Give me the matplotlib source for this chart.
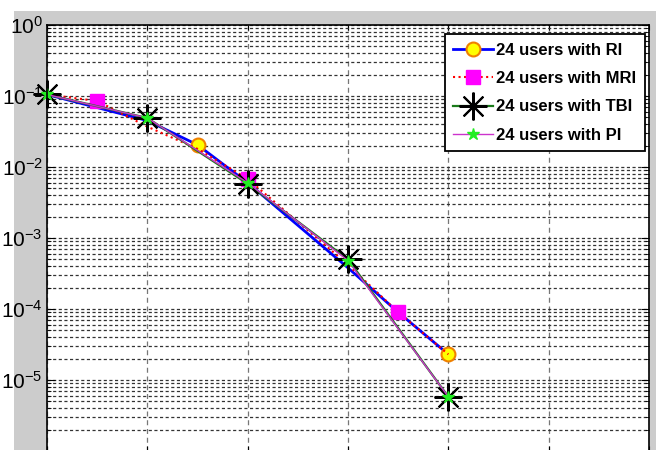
import numpy as np
import matplotlib.pyplot as plt
from matplotlib.patches import Rectangle
from matplotlib.ticker import LogLocator, NullFormatter, FixedLocator

plt.rcParams['font.family'] = ['Liberation Sans', 'DejaVu Sans']

# BER curves, 24 users, for the four interleavers
x_ri = [0, 1, 1.5, 2, 3, 3.5, 4]
ber_ri = [0.105, 0.045, 0.0205, 0.0060, 3.8e-4, 9.0e-5, 2.3e-5]

x_mri = [0, 0.5, 1, 1.5, 2, 3, 3.5, 4]
ber_mri = [0.105, 0.085, 0.037, 0.018, 0.0068, 4.2e-4, 9.0e-5, 2.3e-5]

x_tbi = [0, 1, 2, 3, 4]
ber_tbi = [0.105, 0.049, 0.0058, 5.0e-4, 5.8e-6]

x_pi = [0, 1, 2, 3, 4]
ber_pi = [0.105, 0.049, 0.0060, 4.8e-4, 5.8e-6]

labels = ['24 users with RI', '24 users with MRI', '24 users with TBI', '24 users with PI']
decades = [1e-5, 1e-4, 1e-3, 1e-2, 1e-1, 1e0]

W, H = 661, 450
fig = plt.figure(figsize=(W / 100, H / 100), dpi=100, facecolor='white')
fig.patches.append(Rectangle((14 / W, 0), (656 - 14) / W, 1 - 11 / H,
                             transform=fig.transFigure, facecolor='#cccccc',
                             edgecolor='none', zorder=-10))

ax = fig.add_axes([47 / W, -1 / H, (649 - 47) / W, (451 - 25) / H])
ax.set_facecolor('white')

ax.semilogy(x_ri, ber_ri, '-', color='blue', lw=2, marker='o', markevery=[2, 6],
            ms=10, mfc='yellow', mec='#f08000', mew=1.5, label=labels[0], clip_on=False)
ax.semilogy(x_mri, ber_mri, ':', color='red', lw=1.5, marker='s', markevery=[1, 4, 6],
            ms=10, mfc='magenta', mec='magenta', label=labels[1], clip_on=False)
ax.semilogy(x_tbi, ber_tbi, '-', color='#1a7a1a', lw=1.6, marker=(8, 2, 0),
            ms=20, mec='black', mew=1.5, label=labels[2], clip_on=False)
ax.semilogy(x_pi, ber_pi, '-', color='#cc33cc', lw=1, marker='*',
            ms=9, mfc='#22ee22', mec='#22ee22', label=labels[3], clip_on=False)

ax.set_xlim(0, 6)
ax.set_ylim(1e-6, 1)
ax.set_xticks(range(7))
ax.set_xticklabels([])
ax.yaxis.set_major_locator(FixedLocator(decades))
ax.yaxis.set_minor_locator(LogLocator(base=10, subs=np.arange(2, 10), numticks=20))
ax.yaxis.set_minor_formatter(NullFormatter())

ax.grid(True, which='major', axis='x', color='#777777', ls=(0, (4, 3)), lw=0.9)
ax.grid(True, which='both', axis='y', color='#333333', ls=(0, (2.5, 2)), lw=0.9)
ax.set_axisbelow(True)

ax.tick_params(axis='both', which='both', direction='in', top=True, right=True)
ax.tick_params(axis='y', which='major', labelsize=15, length=6, pad=3)
ax.tick_params(axis='y', which='minor', length=3)
for s in ax.spines.values():
    s.set_linewidth(1.2)

leg = ax.legend(loc='upper right', bbox_to_anchor=(0.993, 0.978), fancybox=False,
                framealpha=1, edgecolor='black', borderpad=0.5, labelspacing=0.8,
                handlelength=2.4, handletextpad=0.2, borderaxespad=0,
                prop={'weight': 'bold', 'size': 12})
leg.get_frame().set_linewidth(1.3)

fig.savefig('out.png', dpi=100, facecolor=fig.get_facecolor())
